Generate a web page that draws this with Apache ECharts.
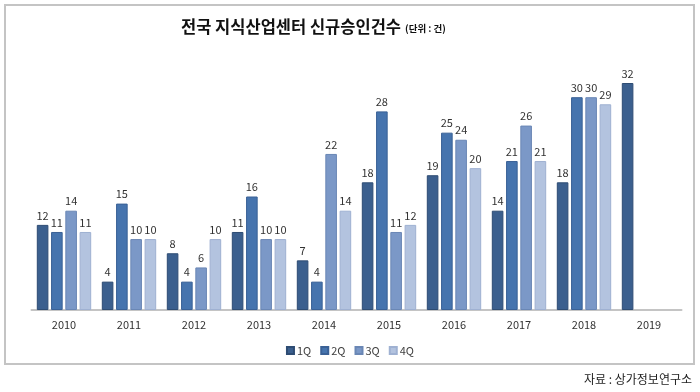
<!DOCTYPE html>
<html><head><meta charset="utf-8">
<script src="https://cdn.jsdelivr.net/npm/echarts@6/dist/echarts.min.js"></script>
<style>html,body{margin:0;padding:0;background:#fff}#c{width:700px;height:392px}</style>
</head><body><div id="c"></div>
<script>
const years = ['2010','2011','2012','2013','2014','2015','2016','2017','2018','2019'];
const quarterNames = ['1Q','2Q','3Q','4Q'];
const q1 = [12, 4, 8, 11, 7, 18, 19, 14, 18, 32];
const q2 = [11, 15, 4, 16, 4, 28, 25, 21, 30, null];
const q3 = [14, 10, 6, 10, 22, 11, 24, 26, 30, null];
const q4 = [11, 10, 10, 10, 14, 12, 20, 21, 29, null];
const fills = ['#3b5f8e', '#4674ae', '#7b98c7', '#b3c3df'];
const borders = ['#2e4c73', '#3a6196', '#6a87b5', '#9fb1d2'];
const font = '"Noto Sans CJK KR", "Noto Sans", sans-serif';

const seriesData = [q1, q2, q3, q4];
const chart = echarts.init(document.getElementById('c'));
chart.setOption({
  animation: false,
  textStyle: {fontFamily: font},
  title: {
    text: '{a|전국 지식산업센터 신규승인건수} {b|(단위 : 건)}',
    left: 176, top: 13,
    textStyle: {rich: {
      a: {fontSize: 16.5, fontWeight: 'bold', color: '#111', fontFamily: font},
      b: {fontSize: 9.5, color: '#111', fontFamily: font, padding: [3,0,0,0]}
    }}
  },
  graphic: [
    {type: 'rect', shape: {x: 5, y: 5, width: 689, height: 359}, style: {fill: 'none', stroke: '#c4c4c4', lineWidth: 2}, z: -1},
    {type: 'text', right: 8, top: 373, style: {text: '자료 : 상가정보연구소', font: '12px ' + font, fill: '#222'}}
  ],
  legend: {
    bottom: 31, left: 'center',
    itemWidth: 7, itemHeight: 7, itemGap: 9,
    icon: 'rect',
    textStyle: {fontSize: 11, color: '#404040', padding: [0,0,0,-2]},
    data: quarterNames
  },
  grid: {left: 31.5, right: 18.5, top: 83, bottom: 82},
  xAxis: {
    type: 'category', data: years,
    axisLine: {lineStyle: {color: '#c4c4c4', width: 2}},
    axisTick: {show: false},
    axisLabel: {fontSize: 11, color: '#333', margin: 9}
  },
  yAxis: {type: 'value', min: 0, max: 32, show: false, splitLine: {show: false}},
  series: seriesData.map((d, i) => ({
    name: quarterNames[i], type: 'bar', data: d,
    barWidth: 11.6, barGap: '23%',
    itemStyle: {color: fills[i], borderColor: borders[i], borderWidth: 1},
    label: {show: true, position: 'top', fontSize: 11, color: '#333', distance: 4}
  }))
});
</script></body></html>
